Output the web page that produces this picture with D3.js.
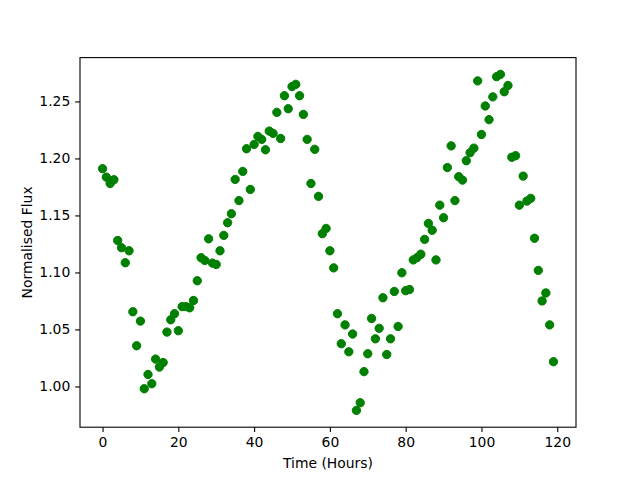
<!DOCTYPE html>
<html>
<head>
<meta charset="utf-8">
<script src="https://cdn.jsdelivr.net/npm/d3@7"></script>
<style>
  body { margin: 0; background: #fff; }
  svg { display: block; }
  text { font-family: "DejaVu Sans", sans-serif; }
</style>
</head>
<body>
<div id="chart"></div>
<script>
// hours since start
const hours = d3.range(0, 120);

// normalised flux
const flux = [
  1.191, 1.1836, 1.178, 1.1813, 1.128, 1.1217, 1.1085, 1.119, 1.0655, 1.0357,
  1.0573, 0.998, 1.0105, 1.0024, 1.024, 1.017, 1.021, 1.0477, 1.0585, 1.0638,
  1.0489, 1.070, 1.070, 1.069, 1.0754, 1.0927, 1.1129, 1.1105, 1.1295, 1.1082,
  1.107, 1.119, 1.1325, 1.1436, 1.1515, 1.1816, 1.163, 1.1886, 1.2085, 1.1728,
  1.2123, 1.2193, 1.2167, 1.2076, 1.224, 1.222, 1.2404, 1.2175, 1.255, 1.2436,
  1.263, 1.265, 1.255, 1.2386, 1.2167, 1.178, 1.208, 1.1667, 1.134, 1.1386,
  1.119, 1.104, 1.0638, 1.0375, 1.054, 1.0304, 1.046, 0.979, 0.9857, 1.013,
  1.0287, 1.0596, 1.0418, 1.051, 1.0778, 1.028, 1.0418, 1.0833, 1.0526, 1.0997,
  1.084, 1.085, 1.111, 1.113, 1.116, 1.129, 1.143, 1.137, 1.111, 1.159,
  1.148, 1.192, 1.211, 1.163, 1.184, 1.181, 1.198, 1.205, 1.209, 1.268,
  1.221, 1.246, 1.234, 1.254, 1.2717, 1.2737, 1.2585, 1.264, 1.201, 1.2024,
  1.159, 1.1845, 1.1626, 1.165, 1.130, 1.1018, 1.075, 1.082, 1.054, 1.0217
];

const xTicks = [0, 20, 40, 60, 80, 100, 120];
const yTicks = [1.00, 1.05, 1.10, 1.15, 1.20, 1.25];

const width = 640, height = 480;
const margin = {top: 57.6, right: 64, bottom: 52.8, left: 80};
const fontSize = 13.9;

const svg = d3.select("#chart").append("svg")
  .attr("width", width)
  .attr("height", height);

// matplotlib style 5% padding round the data
const pad = (ext) => {
  const d = (ext[1] - ext[0]) * 0.05;
  return [ext[0] - d, ext[1] + d];
};

const x = d3.scaleLinear()
  .domain(pad(d3.extent(hours)))
  .range([margin.left, width - margin.right]);

const y = d3.scaleLinear()
  .domain(pad(d3.extent(flux)))
  .range([height - margin.bottom, margin.top]);

// points
svg.append("g")
  .selectAll("circle")
  .data(hours)
  .enter().append("circle")
    .attr("cx", (d) => x(d))
    .attr("cy", (d, i) => y(flux[i]))
    .attr("r", 4.17)
    .attr("fill", "#008000")
    .attr("stroke", "#008000")
    .attr("stroke-width", 1);

// axes
const xAxis = d3.axisBottom(x)
  .tickValues(xTicks)
  .tickFormat(d3.format("d"))
  .tickSizeInner(4.86)
  .tickSizeOuter(0)
  .tickPadding(4.86);

const yAxis = d3.axisLeft(y)
  .tickValues(yTicks)
  .tickFormat(d3.format(".2f"))
  .tickSizeInner(4.86)
  .tickSizeOuter(0)
  .tickPadding(4.86);

svg.append("g")
    .attr("transform", `translate(0, ${height - margin.bottom})`)
    .call(xAxis)
    .call(g => g.select(".domain").remove())
    .call(g => g.selectAll(".tick line").attr("stroke", "#000").attr("stroke-width", 1.1))
    .call(g => g.selectAll("text").attr("fill", "#000")
      .style("font-size", `${fontSize}px`).style("font-family", "DejaVu Sans"));

svg.append("g")
    .attr("transform", `translate(${margin.left}, 0)`)
    .call(yAxis)
    .call(g => g.select(".domain").remove())
    .call(g => g.selectAll(".tick line").attr("stroke", "#000").attr("stroke-width", 1.1))
    .call(g => g.selectAll("text").attr("fill", "#000")
      .style("font-size", `${fontSize}px`).style("font-family", "DejaVu Sans"));

// frame
svg.append("rect")
  .attr("x", margin.left)
  .attr("y", margin.top)
  .attr("width", width - margin.left - margin.right)
  .attr("height", height - margin.top - margin.bottom)
  .attr("fill", "none")
  .attr("stroke", "#000")
  .attr("stroke-width", 1.1);

// labels
svg.append("text")
  .attr("x", (margin.left + width - margin.right) / 2)
  .attr("y", 468)
  .attr("text-anchor", "middle")
  .style("font-size", `${fontSize}px`)
  .text("Time (Hours)");

svg.append("text")
  .attr("transform", `translate(32, ${(margin.top + height - margin.bottom) / 2}) rotate(-90)`)
  .attr("text-anchor", "middle")
  .style("font-size", `${fontSize}px`)
  .text("Normalised Flux");
</script>
</body>
</html>
